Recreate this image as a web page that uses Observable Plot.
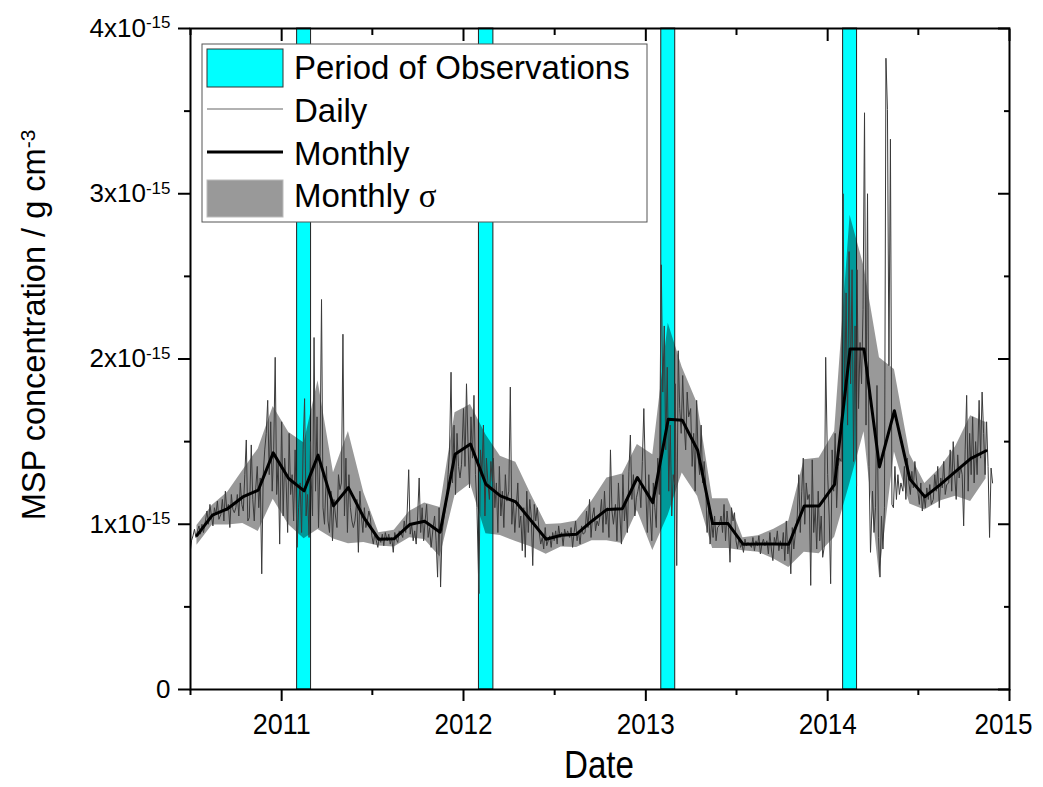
<!DOCTYPE html>
<html><head><meta charset="utf-8">
<script src="https://cdn.jsdelivr.net/npm/d3@7"></script>
<script src="https://cdn.jsdelivr.net/npm/@observablehq/plot@0.6"></script>
<style>body{margin:0;background:#fff} #chart{width:1043px;height:787px}</style>
</head><body><div id="chart"></div>
<script>
// ---- data (values in units of 1e-15 g cm^-3) ----
const monthlyMean = [
  0.933,1.055,1.095,1.165,1.206,1.432,
  1.277,1.202,1.418,1.111,1.222,1.040,0.909,0.913,0.998,1.018,0.952,1.424,
  1.485,1.242,1.172,1.135,1.024,0.909,0.933,0.940,1.020,1.090,1.094,1.283,
  1.131,1.636,1.630,1.448,1.004,1.004,0.879,0.880,0.880,0.879,1.111,1.111,
  1.242,2.060,2.060,1.347,1.687,1.273,1.166,1.240,1.320,1.397,1.445
];
const monthlySigma = [
  0.06,0.06,0.10,0.16,0.25,0.28,
  0.28,0.29,0.45,0.20,0.34,0.15,0.04,0.05,0.08,0.11,0.15,0.25,
  0.24,0.30,0.24,0.24,0.16,0.09,0.07,0.08,0.12,0.19,0.21,0.20,
  0.29,0.58,0.32,0.28,0.15,0.15,0.04,0.05,0.09,0.14,0.28,0.29,
  0.32,0.81,0.50,0.66,0.25,0.15,0.08,0.10,0.15,0.26,0.17
];
const dailySlotDays = [1,4,7,10,13,16,19,22,25,28];
const dailyValues = [
  // 2010 Jul-Dec
  0.82,0.90,0.93,0.97,0.92,0.96,0.99,0.94,1.00,0.95,
  1.02,1.08,1.00,1.12,1.05,0.99,1.10,1.06,1.14,1.03,
  1.06,1.15,1.02,1.20,1.08,1.12,0.98,1.18,1.09,1.07,
  1.10,1.18,1.05,1.25,1.12,1.08,1.30,1.51,1.02,1.04,
  1.48,1.15,1.02,1.22,1.35,1.10,1.28,0.70,1.30,1.45,
  1.55,1.75,1.30,1.62,1.20,1.45,2.01,1.18,1.38,0.88,
  // 2011
  1.62,1.05,1.40,1.25,0.95,1.55,1.18,1.30,1.02,1.45,
  0.86,1.10,1.25,0.95,1.45,1.76,1.05,1.18,0.92,1.50,
  1.30,1.05,2.13,1.20,1.65,0.98,1.40,2.36,1.10,1.00,
  1.35,1.02,0.95,1.20,0.90,1.15,1.05,0.98,1.30,1.21,
  1.25,2.15,1.05,1.40,0.95,1.30,1.10,1.02,0.98,1.02,
  1.15,0.83,1.20,1.05,0.95,1.10,0.98,1.02,1.08,1.04,
  0.93,0.88,0.95,0.90,0.86,0.92,0.89,0.94,0.87,0.95,
  0.90,0.94,0.88,0.92,0.83,0.95,0.91,0.89,0.96,0.95,
  0.92,1.02,0.95,1.08,1.33,0.94,1.00,0.90,0.96,0.88,
  1.05,1.28,0.95,1.10,0.90,1.02,1.12,0.92,0.98,0.86,
  0.98,1.05,0.90,0.68,1.10,0.62,0.95,1.02,1.08,1.14,
  1.30,1.45,1.92,1.25,1.60,1.18,1.55,1.35,1.28,1.36,
  // 2012
  1.70,1.35,1.85,1.50,1.22,1.65,1.40,1.78,1.30,1.10,
  0.58,1.45,1.30,1.60,1.05,1.40,1.25,1.15,1.38,1.26,
  1.40,1.10,1.25,0.95,1.35,1.05,1.20,0.98,1.30,1.14,
  1.20,1.83,1.00,1.15,0.95,1.10,1.25,0.98,1.05,0.84,
  1.10,0.80,1.20,0.95,1.15,1.05,0.75,1.12,1.02,1.10,
  0.95,0.88,0.92,0.85,0.98,0.87,0.90,0.93,0.86,0.95,
  0.90,0.96,0.88,0.99,0.92,0.95,0.87,0.97,0.93,0.96,
  0.92,0.98,0.86,0.95,1.02,0.90,0.96,0.88,0.99,0.94,
  0.95,1.08,0.98,1.15,0.92,1.05,1.10,0.96,1.02,0.99,
  1.05,1.15,0.95,1.20,1.00,1.10,0.92,1.45,1.08,1.00,
  1.12,0.90,1.25,1.05,0.88,1.30,1.02,1.15,0.95,1.32,
  1.54,1.15,1.30,1.05,1.16,1.20,1.25,1.10,1.38,1.70,
  // 2013
  1.20,0.95,1.30,1.05,0.90,1.25,1.10,0.98,1.40,1.18,
  2.57,1.80,2.20,1.45,1.95,1.20,1.60,1.05,1.30,1.24,
  1.85,0.75,2.05,1.70,1.55,1.90,1.60,1.45,1.80,1.65,
  1.70,1.35,1.55,1.20,1.75,1.40,1.30,1.60,1.25,1.38,
  1.25,0.95,1.10,0.88,1.02,0.92,1.05,0.90,0.98,0.99,
  1.05,0.95,1.12,0.90,1.08,0.98,0.77,1.10,1.02,1.07,
  0.90,0.85,0.92,0.86,0.88,0.83,0.91,0.87,0.89,0.88,
  0.86,0.92,0.84,0.90,0.87,0.93,0.82,0.88,0.91,0.87,
  0.90,0.82,0.95,0.85,0.78,0.92,0.88,0.96,0.84,0.90,
  0.85,0.95,0.78,1.02,0.82,0.90,0.70,0.98,0.85,0.94,
  1.05,1.30,0.95,1.20,1.40,1.00,1.25,1.15,1.18,0.63,
  1.39,0.95,1.10,0.85,1.20,0.90,1.05,0.80,0.86,2.01,
  // 2014 Jan-Nov
  1.30,1.05,0.64,1.45,1.20,1.55,1.10,1.35,1.40,1.38,
  3.00,1.75,2.40,1.60,2.65,1.85,2.54,1.38,2.20,1.23,
  2.54,1.70,2.10,1.85,2.30,3.49,1.60,3.00,1.35,0.83,
  1.20,0.95,1.10,1.84,0.92,0.68,1.05,0.85,1.10,3.82,
  3.51,1.96,3.33,1.12,1.10,1.35,1.15,1.30,1.18,1.25,
  1.20,1.35,1.15,1.40,1.25,1.18,1.32,1.22,1.38,1.28,
  1.20,1.12,1.25,1.08,1.18,1.10,1.22,1.15,1.24,1.12,
  1.15,1.30,1.20,1.35,1.10,1.28,1.22,1.38,1.18,1.24,
  1.25,1.45,1.20,1.50,1.30,1.15,1.42,1.28,1.35,1.30,
  0.99,1.45,1.78,1.20,1.55,1.30,1.65,1.25,1.50,1.30,
  1.75,1.40,1.80,1.55,1.30,1.62,1.35,0.92,1.34,1.25
];
const obsStart = ["2011-02-01","2012-02-01","2013-02-01","2014-02-01"];
const obsEnd   = ["2011-03-01","2012-03-01","2013-03-01","2014-03-01"];
const xMajorYears = [2011,2012,2013,2014,2015];
const xMinorHalfYears = [2010,2011,2012,2013,2014];
const yMajor = [0,1,2,3,4];
const yMinor = [0.5,1.5,2.5,3.5];
const legendLabels = ["Period of Observations","Daily","Monthly","Monthly "];

// ---- tables ----
const monthStarts = d3.utcMonth.range(new Date(Date.UTC(2010,6,1)), new Date(Date.UTC(2014,11,1)));
const monthly = monthStarts.map((d,i)=>({date:d3.utcDay.offset(d,14), mean:monthlyMean[i],
  lo:monthlyMean[i]-monthlySigma[i], hi:monthlyMean[i]+monthlySigma[i]}));
const daily = dailyValues.map((v,k)=>({date:d3.utcDay.offset(monthStarts[Math.floor(k/10)], dailySlotDays[k%10]-1), value:v}));
const obs = obsStart.map((s,i)=>({x1:new Date(s+"T00:00Z"), x2:new Date(obsEnd[i]+"T00:00Z")}));
const xMajor = xMajorYears.map(y=>new Date(Date.UTC(y,0,1)));
const xMinor = xMinorHalfYears.map(y=>new Date(Date.UTC(y,6,2)));
const blank = () => "";
const ax = {strokeWidth:2, label:null};

const plot = Plot.plot({
  width:1043, height:787, marginLeft:190, marginRight:34, marginTop:28, marginBottom:98,
  style:{fontFamily:"Arial, 'Liberation Sans', sans-serif", fontSize:"26px", color:"black", background:"white", overflow:"visible"},
  x:{type:"utc", domain:[new Date(Date.UTC(2010,6,2)), new Date(Date.UTC(2015,0,1))]},
  y:{domain:[0,4]},
  marks:[
    Plot.rect(obs,{x1:"x1",x2:"x2",fill:"#00ffff",stroke:"#222",strokeWidth:1}),
    Plot.areaY(monthly,{x:"date",y1:"lo",y2:"hi",fill:"black",fillOpacity:0.4}),
    Plot.lineY(daily,{x:"date",y:"value",stroke:"#3a3a3a",strokeWidth:1,clip:true}),
    Plot.lineY(monthly,{x:"date",y:"mean",stroke:"black",strokeWidth:3}),
    Plot.frame({stroke:"black",strokeWidth:2}),
    Plot.axisX({...ax, ticks:xMajor, tickSize:12, tickPadding:11, tickFormat:"%Y"}),
    Plot.axisX({...ax, ticks:xMinor, tickSize:6, tickFormat:blank}),
    Plot.axisX({...ax, anchor:"top", ticks:xMajor, tickSize:12, dy:12, tickFormat:blank}),
    Plot.axisX({...ax, anchor:"top", ticks:xMinor, tickSize:6, dy:6, tickFormat:blank}),
    Plot.axisY({...ax, ticks:yMajor, tickSize:12, tickPadding:8, tickFormat:d=>d===0?"0":d+"x10"}),
    Plot.axisY({...ax, ticks:yMinor, tickSize:6, tickFormat:blank}),
    Plot.axisY({...ax, anchor:"right", ticks:yMajor, tickSize:12, dx:-12, tickFormat:blank}),
    Plot.axisY({...ax, anchor:"right", ticks:yMinor, tickSize:6, dx:-6, tickFormat:blank})
  ]
});
document.getElementById("chart").appendChild(plot);

const svg = d3.select(plot);
// y tick labels with superscripts
svg.selectAll('g[aria-label="y-axis tick label"] text').style("font-size","26px").each(function(){
  const t = d3.select(this).text();
  if (t && t !== "0") {
    d3.select(this).append("tspan").attr("dy","-0.5em").style("font-size","17px").text("-15");
  }
});
// x tick labels: tall, narrow glyphs as in the original
svg.selectAll('g[aria-label="x-axis tick label"] text').each(function(){
  const s = d3.select(this);
  const t = s.text();
  if (t) {
    s.style("font-size","30px").attr("textLength",58).attr("lengthAdjust","spacingAndGlyphs");
    if (t === "2015") s.attr("dx", -6);
  }
});
// axis titles
svg.append("text").attr("x",599).attr("y",778).attr("text-anchor","middle")
  .style("font-size","38px").attr("textLength",70).attr("lengthAdjust","spacingAndGlyphs").text("Date");
const yl = svg.append("text").attr("transform","translate(45,325) rotate(-90)")
  .attr("text-anchor","middle").style("font-size","34px");
yl.append("tspan").attr("textLength",372).attr("lengthAdjust","spacingAndGlyphs").text("MSP concentration / g cm");
yl.append("tspan").attr("dy","-0.5em").style("font-size","21px").text("-3");

// legend
const lg = svg.append("g").attr("text-anchor","start");
lg.append("rect").attr("x",202).attr("y",44).attr("width",445).attr("height",178)
  .attr("fill","white").attr("stroke","#555").attr("stroke-width",1);
lg.append("rect").attr("x",207).attr("y",49).attr("width",76).attr("height",38)
  .attr("fill","#00ffff").attr("stroke","#333").attr("stroke-width",1);
lg.append("line").attr("x1",207).attr("x2",283).attr("y1",109).attr("y2",109)
  .attr("stroke","#999").attr("stroke-width",1.5);
lg.append("line").attr("x1",207).attr("x2",283).attr("y1",152).attr("y2",152)
  .attr("stroke","black").attr("stroke-width",3);
lg.append("rect").attr("x",207).attr("y",180).attr("width",76).attr("height",37)
  .attr("fill","#999").attr("stroke","#bbb").attr("stroke-width",1);
const ly = [79,122,165,207];
legendLabels.forEach((s,i)=>{
  const t = lg.append("text").attr("x",294).attr("y",ly[i]).style("font-size","33px")
    .attr("text-anchor","start").text(s);
  if (i===3) t.append("tspan").attr("font-family","'Liberation Serif', 'DejaVu Serif', serif").text("σ");
});
</script>
</body></html>
